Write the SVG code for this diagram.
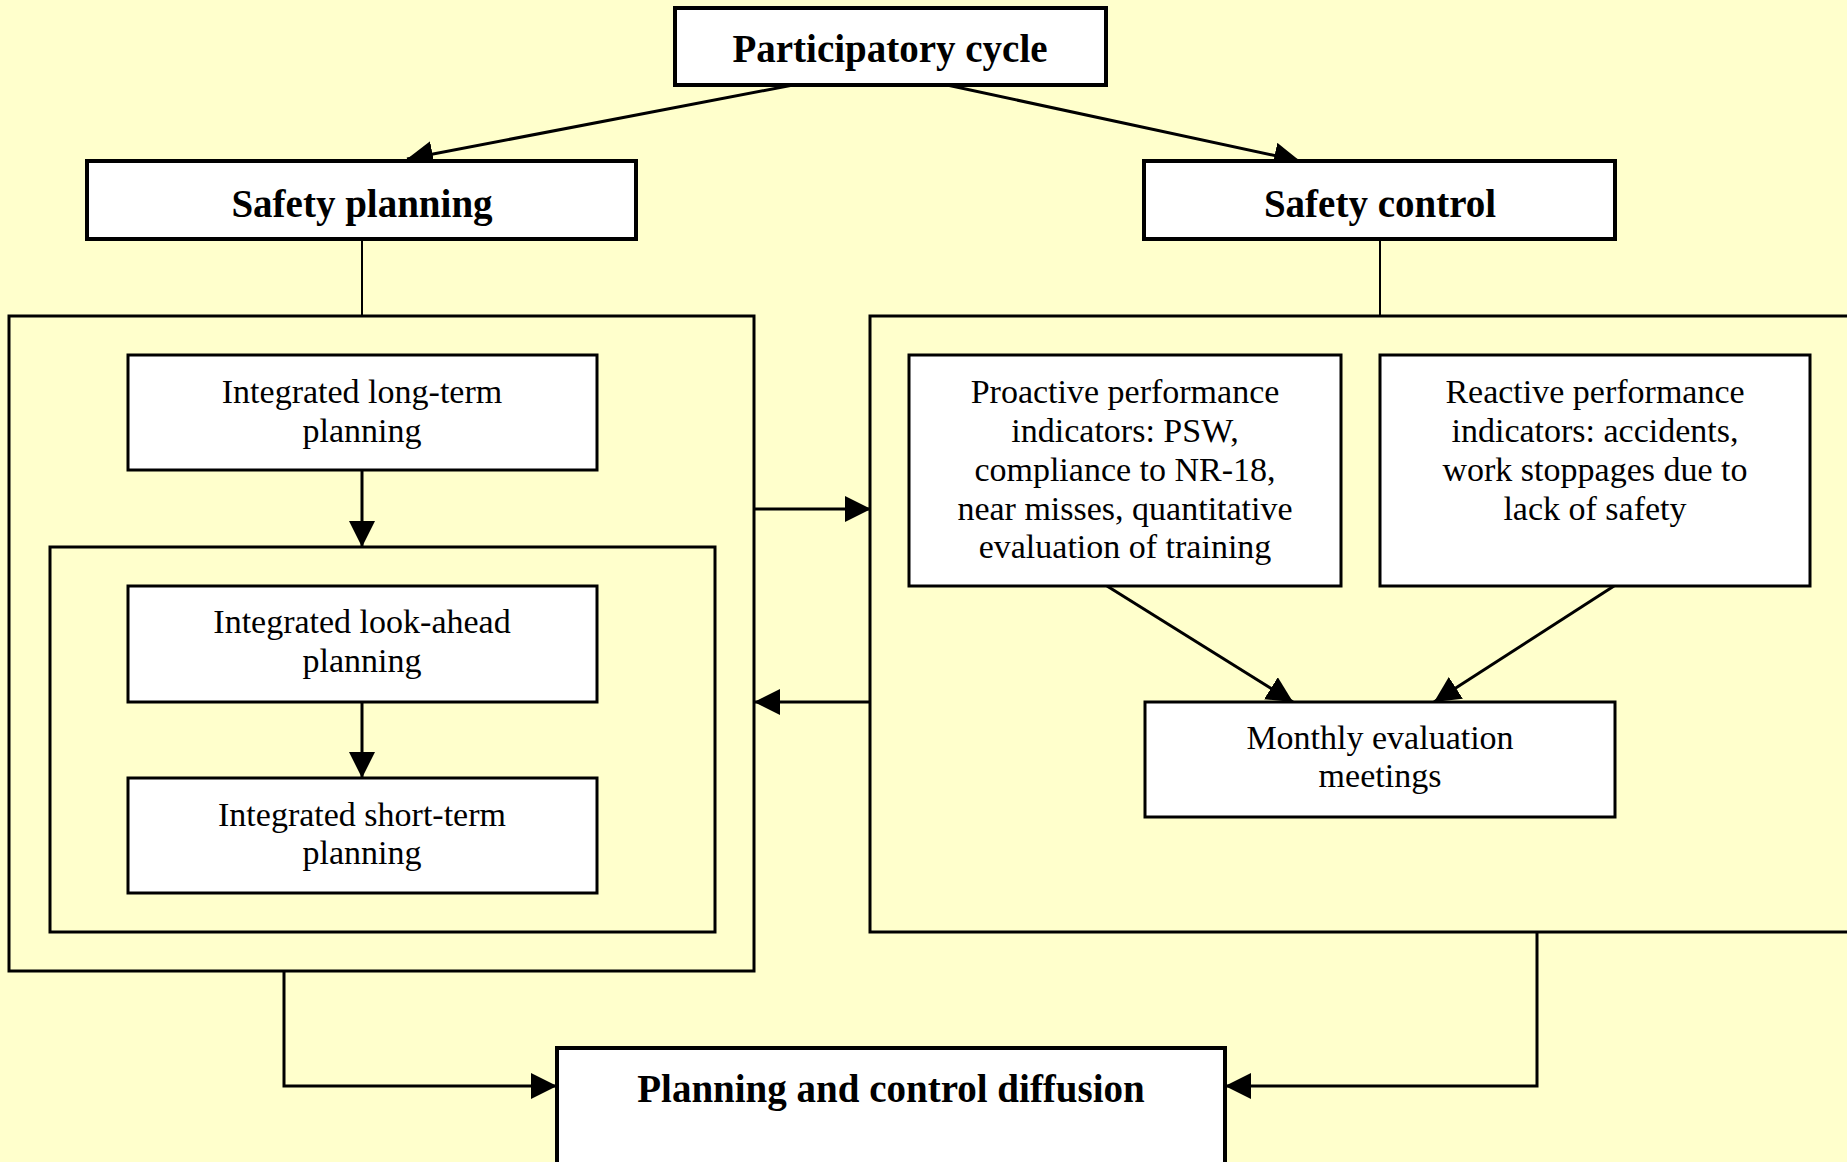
<svg xmlns="http://www.w3.org/2000/svg" width="1847" height="1162" viewBox="0 0 1847 1162">
<style>
.bg{fill:#FFFFCC}
.box{fill:#fff;stroke:#000;stroke-width:3}
.tbox{fill:#fff;stroke:#000;stroke-width:4}
.frame{fill:none;stroke:#000;stroke-width:3}
.t{font-family:"Liberation Serif","Times New Roman",serif;font-size:34px;text-anchor:middle;fill:#000}
.b{font-family:"Liberation Serif","Times New Roman",serif;font-size:39px;font-weight:bold;text-anchor:middle;fill:#000}
.c{fill:none;stroke:#000;stroke-width:3}
.cl{fill:none;stroke:#000;stroke-width:2}
</style>
<defs>
<marker id="ah" markerUnits="userSpaceOnUse" markerWidth="28" markerHeight="26" refX="26" refY="13" orient="auto">
<path d="M0,0 L26,13 L0,26 Z" fill="#000"/>
</marker>
</defs>
<rect class="bg" x="0" y="0" width="1847" height="1162"/>
<g id="frames">
<rect id="planning-frame" class="frame" x="9" y="316" width="745" height="655"/>
<rect id="inner-frame" class="frame" x="50" y="547" width="665" height="385"/>
<path id="control-frame" class="frame" d="M1850,316 L870,316 L870,932 L1850,932"/>
</g>
<g id="connectors">
<path class="c" d="M793,85 L407,159" marker-end="url(#ah)"/>
<path class="c" d="M947,85 L1300,161" marker-end="url(#ah)"/>
<path class="cl" d="M362,239 L362,316"/>
<path class="cl" d="M1380,239 L1380,316"/>
<path class="c" d="M362,470 L362,547" marker-end="url(#ah)"/>
<path class="c" d="M362,702 L362,778" marker-end="url(#ah)"/>
<path class="c" d="M754,509 L871,509" marker-end="url(#ah)"/>
<path class="c" d="M871,702 L754,702" marker-end="url(#ah)"/>
<path class="c" d="M1107,586 L1293,702" marker-end="url(#ah)"/>
<path class="c" d="M1614,586 L1434,702" marker-end="url(#ah)"/>
<path class="c" d="M284,971 L284,1086 L557,1086" marker-end="url(#ah)"/>
<path class="c" d="M1537,932 L1537,1086 L1225,1086" marker-end="url(#ah)"/>
</g>
<g id="participatory-cycle">
<rect class="tbox" x="675" y="8" width="431" height="77"/>
<text class="b" x="890" y="62">Participatory cycle</text>
</g>
<g id="safety-planning">
<rect class="tbox" x="87" y="161" width="549" height="78"/>
<text class="b" x="362" y="217">Safety planning</text>
</g>
<g id="safety-control">
<rect class="tbox" x="1144" y="161" width="471" height="78"/>
<text class="b" x="1380" y="217">Safety control</text>
</g>
<g id="long-term">
<rect class="box" x="128" y="355" width="469" height="115"/>
<text class="t" x="362" y="403">Integrated long-term</text>
<text class="t" x="362" y="442">planning</text>
</g>
<g id="look-ahead">
<rect class="box" x="128" y="586" width="469" height="116"/>
<text class="t" x="362" y="633">Integrated look-ahead</text>
<text class="t" x="362" y="672">planning</text>
</g>
<g id="short-term">
<rect class="box" x="128" y="778" width="469" height="115"/>
<text class="t" x="362" y="826">Integrated short-term</text>
<text class="t" x="362" y="864">planning</text>
</g>
<g id="proactive">
<rect class="box" x="909" y="355" width="432" height="231"/>
<text class="t" x="1125" y="403">Proactive performance</text>
<text class="t" x="1125" y="442">indicators: PSW,</text>
<text class="t" x="1125" y="481">compliance to NR-18,</text>
<text class="t" x="1125" y="520">near misses, quantitative</text>
<text class="t" x="1125" y="558">evaluation of training</text>
</g>
<g id="reactive">
<rect class="box" x="1380" y="355" width="430" height="231"/>
<text class="t" x="1595" y="403">Reactive performance</text>
<text class="t" x="1595" y="442">indicators: accidents,</text>
<text class="t" x="1595" y="481">work stoppages due to</text>
<text class="t" x="1595" y="520">lack of safety</text>
</g>
<g id="monthly">
<rect class="box" x="1145" y="702" width="470" height="115"/>
<text class="t" x="1380" y="749">Monthly evaluation</text>
<text class="t" x="1380" y="787">meetings</text>
</g>
<g id="diffusion">
<rect class="tbox" x="557" y="1048" width="668" height="130"/>
<text class="b" x="891" y="1102">Planning and control diffusion</text>
</g>
</svg>
